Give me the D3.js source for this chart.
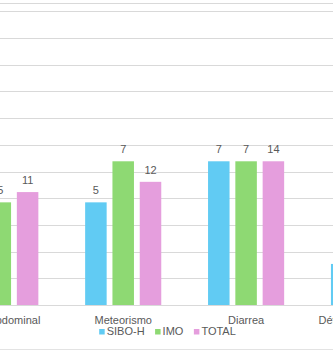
<!DOCTYPE html>
<html>
<head>
<meta charset="utf-8">
<script src="https://cdn.jsdelivr.net/npm/d3@7"></script>
<style>
  html, body { margin: 0; padding: 0; background: #fff; }
  svg { display: block; }
  text { font-family: "Liberation Sans", Arial, sans-serif; }
</style>
</head>
<body>
<script>
// ---- data ----
const categories = ["Dolor abdominal", "Meteorismo", "Diarrea", "Déficit de vitamina D"];
const seriesNames = ["SIBO-H", "IMO", "TOTAL"];
const siboH = [6, 5, 7, 2];
const imo = [5, 7, 7, 3];
const total = [11, 12, 14, 5];
const seriesColors = ["#61CBF3", "#8ED973", "#E59EDD"];

// ---- layout ----
const W = 333, H = 360;
const plotTop = 3, plotBottom = 305;
const groupStep = 122.9, firstCenter = 0.3;
const primaryMax = 14.71;      // primary axis max (SIBO-H, IMO)
const secondaryMax = 29.42;    // secondary axis max (TOTAL)
const gridStep = 1.3;

const svg = d3.select("body").append("svg").attr("width", W).attr("height", H);

const x0 = d3.scaleBand()
  .domain(categories)
  .range([firstCenter - groupStep / 2, firstCenter - groupStep / 2 + groupStep * categories.length])
  .paddingInner(0).paddingOuter(0);

const innerStep = 27.3;
const x1 = d3.scaleBand()
  .domain(seriesNames)
  .range([groupStep / 2 - innerStep * 1.5, groupStep / 2 + innerStep * 1.5])
  .paddingInner(0.212).paddingOuter(0.106);

const yP = d3.scaleLinear().domain([0, primaryMax]).range([plotBottom, plotTop]);
const yS = d3.scaleLinear().domain([0, secondaryMax]).range([plotBottom, plotTop]);

// gridlines
const gridVals = d3.range(0, primaryMax, gridStep).concat([primaryMax]);
svg.append("g").selectAll("line").data(gridVals).join("line")
  .attr("x1", 0).attr("x2", W)
  .attr("y1", d => Math.round(yP(d)) + 0.5).attr("y2", d => Math.round(yP(d)) + 0.5)
  .attr("stroke", "#D9D9D9").attr("stroke-width", 1);

// bottom border line
svg.append("line").attr("x1", 0).attr("x2", W).attr("y1", 349.5).attr("y2", 349.5)
  .attr("stroke", "#E3E3E3").attr("stroke-width", 1);

const rows = categories.map((c, i) => ({
  cat: c,
  vals: [
    { s: "SIBO-H", v: siboH[i], y: yP, color: seriesColors[0] },
    { s: "IMO", v: imo[i], y: yP, color: seriesColors[1] },
    { s: "TOTAL", v: total[i], y: yS, color: seriesColors[2] }
  ]
}));

const groups = svg.append("g").selectAll("g").data(rows).join("g")
  .attr("transform", d => `translate(${x0(d.cat)},0)`);

groups.selectAll("rect").data(d => d.vals).join("rect")
  .attr("x", d => x1(d.s))
  .attr("width", x1.bandwidth())
  .attr("y", d => d.y(d.v))
  .attr("height", d => plotBottom - d.y(d.v))
  .attr("fill", d => d.color);

groups.selectAll("text.val").data(d => d.vals).join("text")
  .attr("class", "val")
  .attr("x", d => x1(d.s) + x1.bandwidth() / 2)
  .attr("y", d => d.y(d.v) - 8)
  .attr("text-anchor", "middle")
  .attr("font-size", 11)
  .attr("fill", "#595959")
  .text(d => d.v);

// axis line
svg.append("line").attr("x1", 0).attr("x2", W)
  .attr("y1", plotBottom + 0.5).attr("y2", plotBottom + 0.5)
  .attr("stroke", "#D9D9D9").attr("stroke-width", 1);

// category labels
const xAxis = d3.axisBottom(x0).tickSize(0).tickPadding(0);
const ax = svg.append("g").attr("transform", `translate(0,${plotBottom})`).call(xAxis);
ax.select(".domain").remove();
ax.selectAll("text")
  .attr("dy", null).attr("y", 19)
  .attr("font-size", 11)
  .attr("font-family", "Liberation Sans, Arial, sans-serif")
  .attr("fill", "#595959");

// legend
const legend = svg.append("g");
let cx = 0;
const items = [];
seriesNames.forEach((n, i) => {
  const g = legend.append("g");
  g.append("rect").attr("x", 0).attr("y", 329).attr("width", 5.5).attr("height", 5.5).attr("fill", seriesColors[i]);
  const t = g.append("text").attr("x", 7.5).attr("y", 335).attr("font-size", 11).attr("fill", "#595959").text(n);
  const w = 7.5 + t.node().getComputedTextLength();
  g.attr("transform", `translate(${cx},0)`);
  cx += w + 10.5;
});
const totalW = cx - 10.5;
legend.attr("transform", `translate(${167.5 - totalW / 2},0)`);
</script>
</body>
</html>
